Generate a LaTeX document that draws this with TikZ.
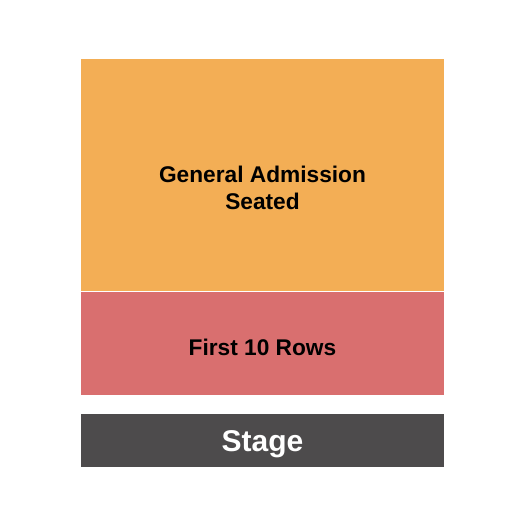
\documentclass[tikz,border=0pt]{standalone}
\usepackage{fontspec}
\setmainfont{Liberation Sans}
\definecolor{gaorange}{HTML}{F3AE55}
\definecolor{rowsred}{HTML}{D96F6F}
\definecolor{stagegray}{HTML}{4D4B4C}
\begin{document}
\begin{tikzpicture}[x=1pt,y=-1pt,
  lbl/.style={font=\bfseries\fontsize{22.7}{27}\selectfont, text=black, align=center, inner sep=0pt},
  blk/.style={draw=none, inner sep=0pt}]
\useasboundingbox (0,0) rectangle (525,525);
\fill[gaorange] (81,59) rectangle (444,291);
\fill[rowsred] (81,292) rectangle (444,395);
\fill[stagegray] (81,414) rectangle (444,467);
\node[lbl] (ga) at (262.5,187.5) {General Admission\\Seated};
\node[lbl] (rows) at (262.5,347) {First 10 Rows};
\node[lbl, text=white, font=\bfseries\fontsize{30}{33}\selectfont] (stage) at (262.5,444) {Stage};
\end{tikzpicture}
\end{document}
